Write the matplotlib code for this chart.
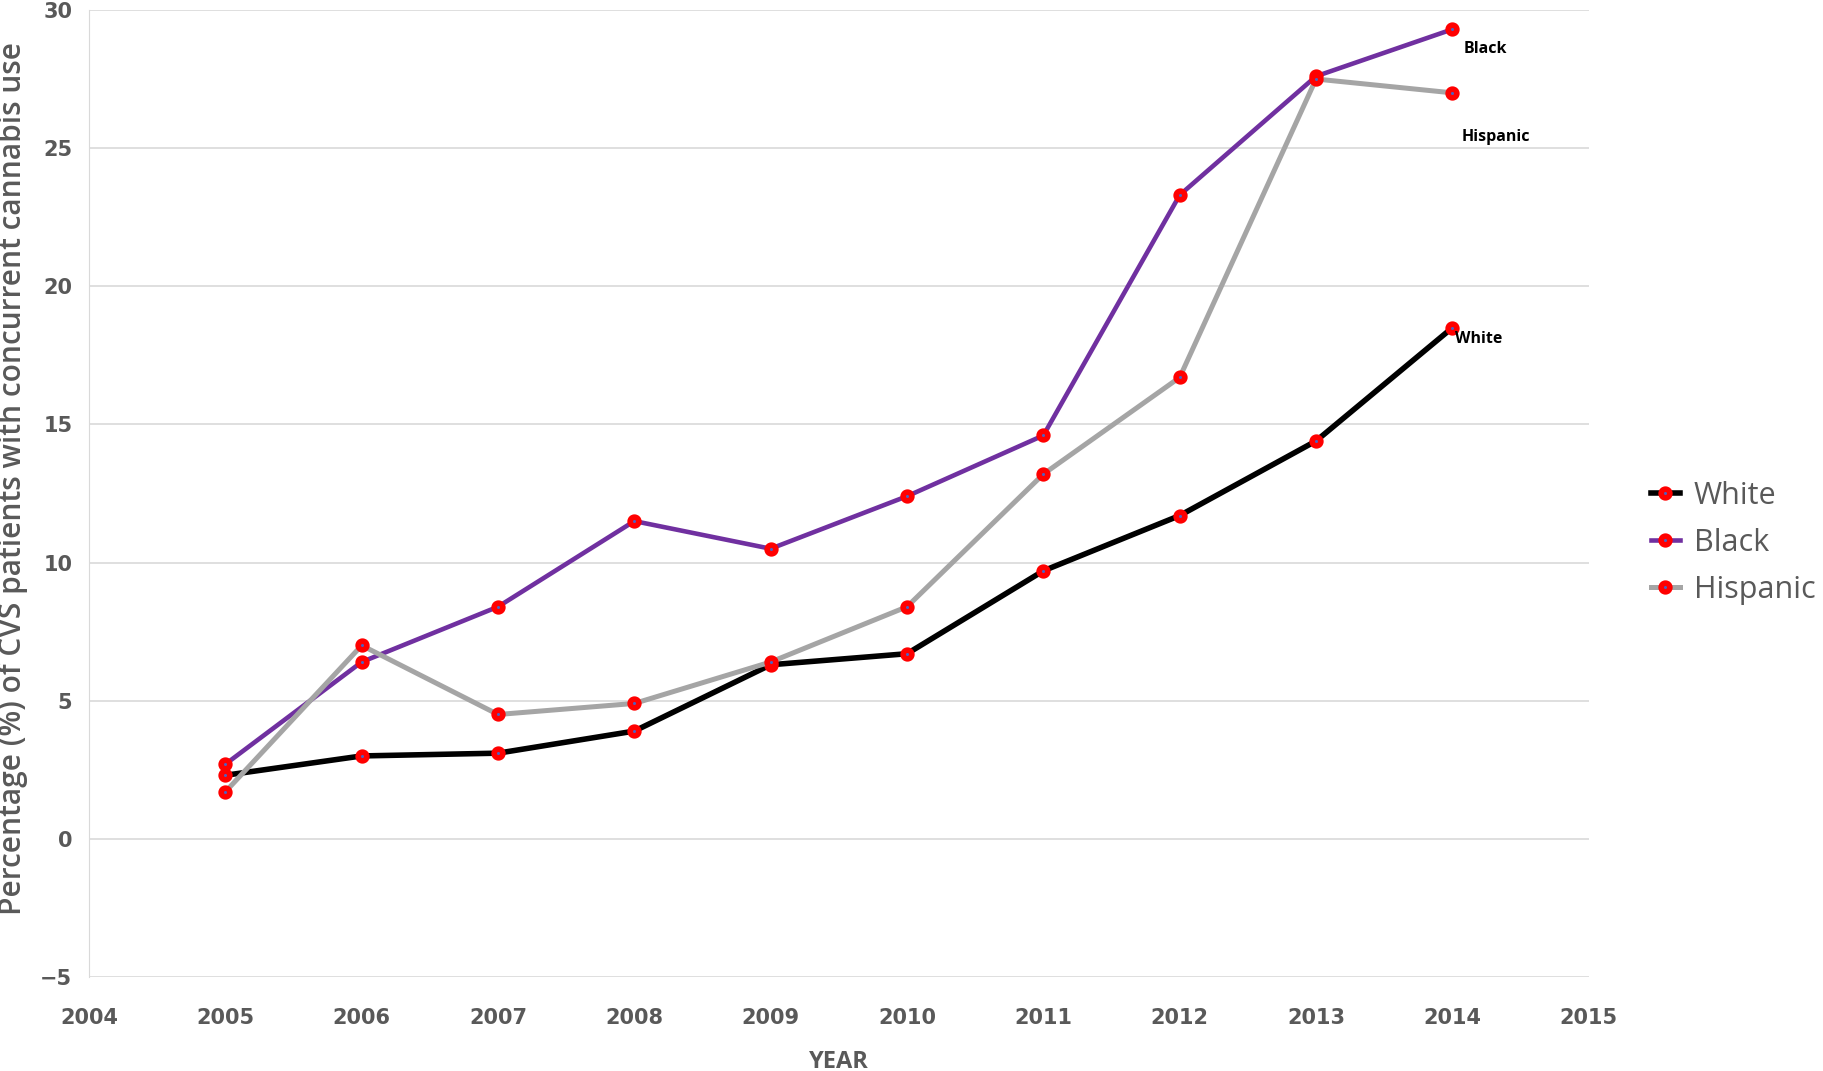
import matplotlib.pyplot as plt

years = [2005, 2006, 2007, 2008, 2009, 2010, 2011, 2012, 2013, 2014]
white = [2.3, 3.0, 3.1, 3.9, 6.3, 6.7, 9.7, 11.7, 14.4, 18.5]
black = [2.7, 6.4, 8.4, 11.5, 10.5, 12.4, 14.6, 23.3, 27.6, 29.3]
hispanic = [1.7, 7.0, 4.5, 4.9, 6.4, 8.4, 13.2, 16.7, 27.5, 27.0]

series = ['White', 'Black', 'Hispanic']
colors = ['#000000', '#7030A0', '#A5A5A5']
widths = [4.0, 3.3, 3.6]
# end labels (x, y) placed next to 2014 points
end_labels = {'Black': (2014.08, 28.6), 'Hispanic': (2014.07, 25.4), 'White': (2014.02, 18.1)}

sans = ['Open Sans', 'DejaVu Sans']
grey = '#595959'

fig = plt.figure(figsize=(18.24, 10.71), dpi=100)
ax = fig.add_axes([0.0488, 0.0878, 0.8222, 0.9029])

for name, vals, c, lw in zip(series, [white, black, hispanic], colors, widths):
    ax.plot(years, vals, color=c, lw=lw, marker='o', ms=6.3, mew=4.0,
            mec='#FF0000', mfc='#5060C0', label=name, zorder=3)

for name, (x, y) in end_labels.items():
    ax.text(x, y, name, fontsize=11.5, fontweight='bold', color='black',
            ha='left', va='center', family=sans)

ax.set_xlim(2004, 2015)
ax.set_ylim(-5, 30)
ax.set_xticks(range(2004, 2016))
ax.set_yticks(range(-5, 31, 5))
ax.set_yticklabels(['\u22125'] + [str(v) for v in range(0, 31, 5)])
ax.grid(axis='y', color='#D9D9D9', lw=1.2)
ax.set_axisbelow(True)
for s in ['top', 'right', 'bottom']:
    ax.spines[s].set_visible(False)
ax.spines['left'].set_color('#D9D9D9')
ax.tick_params(length=0, labelsize=15, labelcolor=grey)
ax.tick_params(axis='x', pad=22)
ax.tick_params(axis='y', pad=12)
for lab in ax.get_xticklabels() + ax.get_yticklabels():
    lab.set_fontweight('bold')

ax.set_xlabel('YEAR', fontsize=17, fontweight='bold', color=grey, family=sans, labelpad=16)
ax.set_ylabel('Percentage (%) of CVS patients with concurrent cannabis use', fontsize=21.5,
              fontweight='semibold', color=grey, family=sans)
ax.yaxis.set_label_coords(-0.041, 0.515)

leg = ax.legend(loc='center left', bbox_to_anchor=(0.89, 0.493), bbox_transform=fig.transFigure,
                frameon=False, fontsize=22, handlelength=0.95, labelspacing=0.55, handletextpad=0.45)
for t in leg.get_texts():
    t.set_color(grey)
    t.set_family(sans)

fig.savefig('out.png', dpi=100)
